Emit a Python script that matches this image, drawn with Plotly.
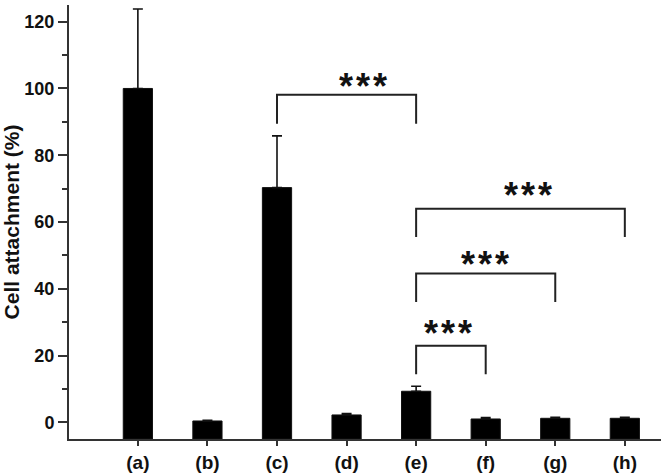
import plotly.graph_objects as go

labels = ["(a)", "(b)", "(c)", "(d)", "(e)", "(f)", "(g)", "(h)"]
attachment = [100.0, 0.4, 70.3, 2.2, 9.3, 1.0, 1.2, 1.2]
err_up = [23.8, 0.2, 15.5, 0.4, 1.5, 0.4, 0.3, 0.3]

# significance comparisons: (from, to, bar top, leg bottom)
pairs = [(2, 4, 98.1, 89.4), (4, 7, 64.0, 55.5), (4, 6, 44.6, 36.0), (4, 5, 22.9, 14.4)]
star_x = [3.23, 5.61, 4.99, 4.46]
star_y = [100.6, 68.0, 47.3, 26.6]

x = list(range(len(labels)))
ymin = -5

fig = go.Figure()
fig.add_trace(go.Bar(x=x, y=[v - ymin for v in attachment], base=ymin, width=0.42,
                     marker=dict(color="black", line=dict(color="#111", width=1)),
                     showlegend=False, hoverinfo="skip"))
fig.add_trace(go.Scatter(x=x, y=attachment, mode="markers", marker=dict(size=0.1, opacity=0),
                         error_y=dict(type="data", symmetric=False, array=err_up,
                                      arrayminus=[0] * len(x), color="#111",
                                      thickness=1.6, width=5),
                         showlegend=False, hoverinfo="skip"))

for (a, b, top, bot), sx, sy in zip(pairs, star_x, star_y):
    fig.add_trace(go.Scatter(x=[a, a, b, b], y=[bot, top, top, bot], mode="lines",
                             line=dict(color="#222", width=2), showlegend=False,
                             hoverinfo="skip"))
    fig.add_annotation(x=sx, y=sy, text="*\u200a*\u200a*", showarrow=False,
                       font=dict(family="Liberation Sans", size=36, weight="bold",
                                 color="#111"),
                       xanchor="center", yanchor="middle")

fig.update_layout(
    width=662, height=475, plot_bgcolor="white", paper_bgcolor="white",
    margin=dict(l=69, r=1, t=5, b=36),
    font=dict(family="Liberation Sans", color="#111"),
)
fig.update_xaxes(range=[-0.99, 7.52], tickvals=x, ticktext=labels,
                 showline=True, linecolor="#333", linewidth=2, ticks="outside",
                 ticklen=5, tickwidth=1.5, tickcolor="#333", showgrid=False,
                 zeroline=False, tickfont=dict(size=19, weight="bold"))
fig.update_yaxes(range=[ymin, 125], tickvals=[0, 20, 40, 60, 80, 100, 120],
                 showline=True, linecolor="#333", linewidth=2, ticks="outside",
                 ticklen=9, tickwidth=1.5, tickcolor="#333", showgrid=False,
                 zeroline=False, tickfont=dict(size=18, weight="bold"),
                 minor=dict(tickvals=[10, 30, 50, 70, 90, 110], ticks="outside",
                            ticklen=5, tickwidth=1.5, tickcolor="#333"),
                 title=dict(text="Cell attachment (%)", standoff=5,
                            font=dict(size=21, weight="bold")))

fig.write_html("out.html", config={"displayModeBar": False},
               post_script="document.body.style.margin='0';")
